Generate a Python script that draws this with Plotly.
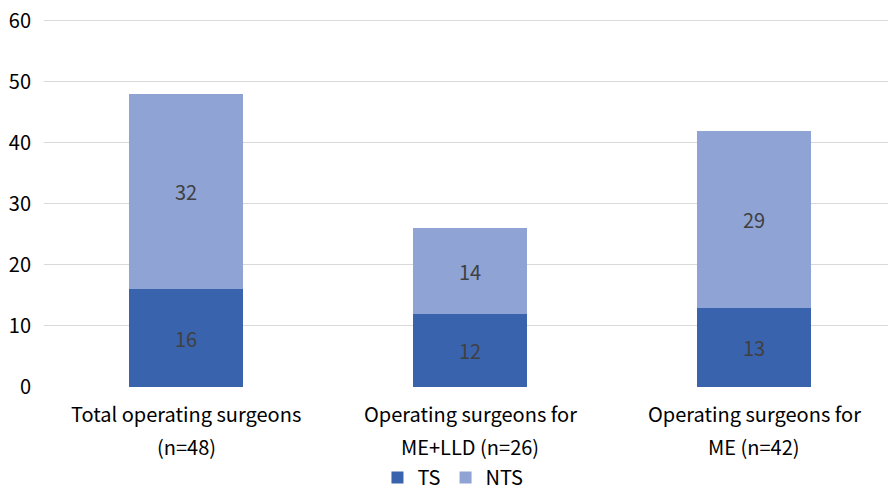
import plotly.graph_objects as go

categories = ["Total operating surgeons (n=48)",
              "Operating surgeons for ME+LLD (n=26)",
              "Operating surgeons for ME (n=42)"]
label_line1 = ["Total operating surgeons", "Operating surgeons for", "Operating surgeons for"]
label_line2 = ["(n=48)", "ME+LLD (n=26)", "ME (n=42)"]
ts_values = [16, 12, 13]
nts_values = [32, 14, 29]
y_ticks = [0, 10, 20, 30, 40, 50, 60]

FONT = "Noto Sans CJK JP"
FS = 20

fig = go.Figure()
fig.add_trace(go.Bar(
    x=categories, y=ts_values, name="TS",
    marker=dict(color="#3A63AD", line=dict(width=0)),
    text=ts_values, textposition="inside", insidetextanchor="middle",
    textfont=dict(family=FONT, size=FS, color="#404040"),
    width=0.4,
))
fig.add_trace(go.Bar(
    x=categories, y=nts_values, name="NTS",
    marker=dict(color="#8FA4D5", line=dict(width=0)),
    text=nts_values, textposition="inside", insidetextanchor="middle",
    textfont=dict(family=FONT, size=FS, color="#404040"),
    width=0.4,
))

annotations = []
for c, l1, l2 in zip(categories, label_line1, label_line2):
    annotations.append(dict(x=c, xref="x", y=0, yref="paper", text=l1, showarrow=False,
                            yshift=-26, yanchor="middle", xanchor="center",
                            font=dict(family=FONT, size=FS, color="#000000")))
    annotations.append(dict(x=c, xref="x", y=0, yref="paper", text=l2, showarrow=False,
                            yshift=-59, yanchor="middle", xanchor="center",
                            font=dict(family=FONT, size=FS, color="#000000")))

fig.update_layout(
    barmode="stack",
    width=896, height=490,
    margin=dict(l=36, r=8, t=11, b=111, autoexpand=False),
    paper_bgcolor="white", plot_bgcolor="white",
    font=dict(family=FONT, size=FS, color="#000000"),
    showlegend=True,
    legend=dict(orientation="h", x=0.48, xanchor="center",
                yref="container", y=0.042, yanchor="middle",
                font=dict(family=FONT, size=FS, color="#000000"),
                itemwidth=30, traceorder="normal", tracegroupgap=0),
    annotations=annotations,
)
fig.update_yaxes(range=[0, 60.3], tickvals=y_ticks, showgrid=True, gridcolor="#D9D9D9",
                 gridwidth=1, zeroline=False, showline=False, ticks="", automargin=False,
                 ticklabeloverflow="allow",
                 tickfont=dict(family=FONT, size=FS, color="#000000"), ticklabelstandoff=12)
fig.update_xaxes(showgrid=False, showline=False, ticks="", showticklabels=False,
                 automargin=False)

fig.write_html("out.html")
